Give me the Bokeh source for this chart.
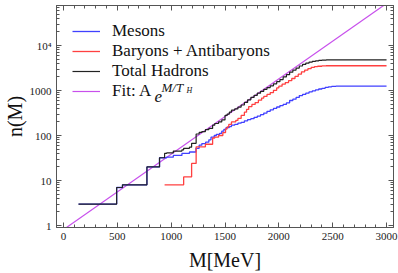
from bokeh.plotting import figure
from bokeh.models import (LinearAxis, LogAxis, FixedTicker, Legend, LegendItem,
                          Label, Range1d, CustomJSTickFormatter)
from bokeh.embed import file_html
from bokeh.resources import INLINE

# ---- data ----
meson_m = [140, 494, 548, 775, 892, 958, 1020, 1100, 1170, 1230, 1260, 1285, 1320,
           1350, 1370, 1400, 1420, 1450, 1470, 1490, 1510, 1540, 1560, 1590, 1620,
           1650, 1680, 1710, 1740, 1770, 1800, 1830, 1860, 1890, 1920, 1950, 1980,
           2010, 2040, 2070, 2100, 2130, 2160, 2190, 2220, 2250, 2280, 2310, 2340,
           2370, 2400, 2430, 2460, 2490, 2530, 3000]
meson_n = [3, 7, 8, 20, 32, 33, 36, 40, 43, 52, 61, 66, 71,
           80, 92, 100, 106, 112, 125, 137, 150, 158, 170, 176, 188,
           196, 212, 226, 236, 254, 270, 290, 315, 345, 372, 400, 430,
           462, 490, 530, 600, 640, 700, 770, 820, 870, 930, 980, 1030,
           1080, 1120, 1170, 1210, 1235, 1250, 1250]

baryon_m = [939, 1116, 1190, 1232, 1318, 1385, 1405, 1440, 1480, 1505, 1520, 1535,
            1560, 1600, 1620, 1650, 1680, 1700, 1720, 1750, 1780, 1810, 1840, 1860,
            1890, 1920, 1950, 1980, 2000, 2030, 2060, 2090, 2120, 2150, 2180, 2210,
            2240, 2270, 2300, 2330, 2360, 2400, 2440, 3000]
baryon_n = [8, 12, 24, 56, 64, 88, 92, 100, 116, 140, 156, 176,
            200, 216, 240, 280, 330, 380, 440, 490, 540, 610, 680, 740,
            820, 900, 1010, 1140, 1250, 1380, 1500, 1650, 1850, 2050, 2300, 2600,
            2850, 3050, 3250, 3380, 3460, 3530, 3550, 3550]

total_m = [140, 494, 548, 775, 892, 939, 958, 1020, 1100, 1116, 1170, 1190, 1232,
           1260, 1285, 1318, 1350, 1385, 1405, 1440, 1470, 1500, 1520, 1540, 1560,
           1590, 1620, 1650, 1680, 1710, 1740, 1770, 1800, 1830, 1860, 1890, 1920,
           1950, 1980, 2010, 2040, 2070, 2100, 2130, 2160, 2190, 2220, 2250, 2280,
           2310, 2340, 2370, 2400, 2440, 2480, 2530, 3000]
total_n = [3, 7, 8, 20, 32, 40, 41, 45, 48, 52, 55, 67, 108,
           117, 122, 135, 144, 170, 185, 200, 222, 280, 300, 330, 365,
           390, 428, 476, 542, 620, 700, 780, 870, 960, 1060, 1160, 1270,
           1410, 1570, 1750, 2000, 2250, 2550, 2850, 3150, 3500, 3800, 4050, 4250,
           4420, 4550, 4650, 4720, 4770, 4795, 4800, 4800]

fit_m = [0, 3000]
fit_n = [0.81, 86000]

x_ticks = [0, 500, 1000, 1500, 2000, 2500, 3000]
y_ticks = [1, 10, 100, 1000, 10000]
y_tick_labels = ["1", "10", "100", "1000", "10\u2074"]

# ---- styling ----
FONT = "Liberation Serif"
AX = "#555555"
C_MES = "#4040ff"
C_BAR = "#ff4040"
C_TOT = "#222222"
C_FIT = "#c850ec"

p = figure(width=398, height=273, y_axis_type="log",
           x_range=Range1d(-64.6, 3064.6), y_range=Range1d(0.903, 77430),
           output_backend="svg", toolbar_location=None,
           min_border_left=54, min_border_right=5, min_border_top=5, min_border_bottom=46)
p.grid.visible = False
p.outline_line_color = AX
p.background_fill_color = "white"
p.border_fill_color = "white"

bottom_ax = p.below[0]
left_ax = p.left[0]

x_minor = list(range(-100, 3101, 100))
y_minor = [k * 10 ** e for e in range(-1, 5) for k in range(1, 10)]
xt = FixedTicker(ticks=x_ticks, minor_ticks=x_minor)
yt = FixedTicker(ticks=y_ticks, minor_ticks=y_minor)

bottom_ax.ticker = xt
left_ax.ticker = yt
left_ax.major_label_overrides = {t: l for t, l in zip(y_ticks, y_tick_labels)}

top_ax = LinearAxis(ticker=xt)
right_ax = LogAxis(ticker=yt)
blank = CustomJSTickFormatter(code="return ''")
for a in (top_ax, right_ax):
    a.formatter = blank
    a.major_label_text_font_size = "0px"
    a.major_label_standoff = 0
    a.axis_label_standoff = 0
p.add_layout(top_ax, "above")
p.add_layout(right_ax, "right")

for a in [bottom_ax, left_ax, top_ax, right_ax]:
    a.axis_line_color = AX
    a.major_tick_line_color = AX
    a.minor_tick_line_color = AX
    a.major_tick_in = 5
    a.major_tick_out = 0
    a.minor_tick_in = 3
    a.minor_tick_out = 0

for a in [bottom_ax, left_ax]:
    a.major_label_text_font = FONT
    a.major_label_text_font_size = "11px"
    a.major_label_text_color = "#222222"
    a.axis_label_text_font = FONT
    a.axis_label_text_font_style = "normal"
    a.axis_label_text_font_size = "20px"
    a.axis_label_text_color = "#111111"
    a.major_label_standoff = 5
bottom_ax.axis_label_standoff = 6
left_ax.axis_label_standoff = 1

bottom_ax.axis_label = "M[MeV]"
left_ax.axis_label = "n(M)"

r_fit = p.line(fit_m, fit_n, line_color=C_FIT, line_width=1.2)
r_mes = p.step(meson_m, meson_n, mode="after", line_color=C_MES, line_width=1.3)
r_bar = p.step(baryon_m, baryon_n, mode="after", line_color=C_BAR, line_width=1.3)
r_tot = p.step(total_m, total_n, mode="after", line_color=C_TOT, line_width=1.2)

legend = Legend(items=[
    LegendItem(label="Mesons", renderers=[r_mes]),
    LegendItem(label="Baryons + Antibaryons", renderers=[r_bar]),
    LegendItem(label="Total Hadrons", renderers=[r_tot]),
    LegendItem(label="Fit: A", renderers=[r_fit]),
], location=(16, 126))
legend.label_text_font = FONT
legend.label_text_font_size = "17px"
legend.label_text_line_height = 0.9
legend.label_text_color = "#111111"
legend.glyph_width = 28
legend.glyph_height = 18
legend.label_height = 18
legend.label_standoff = 12
legend.spacing = 0
legend.margin = 0
legend.padding = 0
legend.border_line_alpha = 0
legend.background_fill_alpha = 0
p.add_layout(legend)

# superscript part of the fit label: e^{M/T_H}
p.add_layout(Label(x=98, y=131, x_units="screen", y_units="screen", text="e",
                   text_font=FONT, text_font_style="italic", text_font_size="17px",
                   text_color="#111111", text_baseline="alphabetic"))
p.add_layout(Label(x=105, y=140, x_units="screen", y_units="screen", text="M/T",
                   text_font=FONT, text_font_style="italic", text_font_size="13px",
                   text_color="#111111", text_baseline="alphabetic"))
p.add_layout(Label(x=130, y=137, x_units="screen", y_units="screen", text="H",
                   text_font=FONT, text_font_style="italic", text_font_size="8px",
                   text_color="#111111", text_baseline="alphabetic"))

open("out.html", "w").write(file_html(p, INLINE))
